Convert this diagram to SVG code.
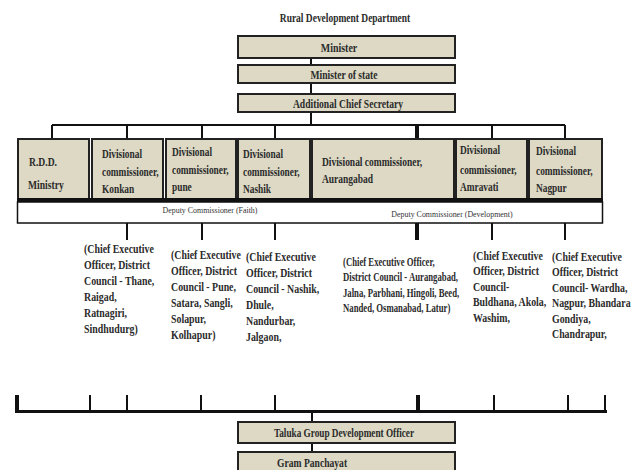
<svg xmlns="http://www.w3.org/2000/svg" width="638" height="470" viewBox="0 0 638 470">
<style>
.bx{fill:#DDD9C4;stroke:#222;stroke-width:2}
.t{font-family:"Liberation Serif","Times New Roman",serif;font-weight:bold;font-size:12px;fill:#2b2b2b}
.s{font-family:"Liberation Serif","Times New Roman",serif;font-size:9px;fill:#333}
.l{font-family:"Liberation Serif","Times New Roman",serif;font-weight:bold;font-size:13px;fill:#2b2b2b}
.ln{stroke:#111;stroke-width:2;fill:none}
.tk{stroke:#111;stroke-width:4;fill:none}
</style>
<rect width="638" height="470" fill="#fff"/>
<text class="t" text-anchor="middle" transform="translate(345 22) scale(0.79 1)">Rural Development Department</text>

<g id="connectors">
<path class="ln" d="M311 58V65M311 83V94M311 112V125M52 125H565M52 125V139M127 125V139M202 125V139M275 125V139M492 125V139M565 125V139"/>
<path class="tk" d="M417 125V139"/>
<path class="ln" d="M127 223V240M202 223V240M275 223V240M492 223V240M565 223V240"/>
<path class="tk" d="M417 223V240"/>
<path class="ln" d="M90 395V412M127 395V412M201 395V412M275 395V412M494 395V412M568 395V412M605 395V412M312 412V422M312 443V452" />
<path class="tk" d="M17 395V412M418 395V412"/>
<path d="M15 411.5H607" stroke="#111" stroke-width="3"/>
</g>

<g id="minister"><rect class="bx" x="238" y="36" width="217" height="22"/>
<text class="t" text-anchor="middle" transform="translate(339 52) scale(0.83 1)">Minister</text></g>
<g id="minister-state"><rect class="bx" x="238" y="65" width="217" height="18"/>
<text class="t" text-anchor="middle" transform="translate(344 79) scale(0.8 1)">Minister of state</text></g>
<g id="acs"><rect class="bx" x="238" y="94" width="217" height="18"/>
<text class="t" text-anchor="middle" transform="translate(348 108) scale(0.8 1)">Additional Chief Secretary</text></g>

<g id="rdd"><rect class="bx" x="18" y="139" width="71" height="60"/>
<text class="t" transform="translate(29 166) scale(0.8 1)">R.D.D.</text>
<text class="t" transform="translate(28 189) scale(0.8 1)">Ministry</text></g>
<g id="konkan"><rect class="bx" x="92" y="139" width="71" height="60"/>
<text class="t" transform="translate(102 158) scale(0.78 1)"><tspan x="0">Divisional</tspan><tspan x="0" dy="18">commissioner,</tspan><tspan x="0" dy="17">Konkan</tspan></text></g>
<g id="pune"><rect class="bx" x="166" y="139" width="70" height="60"/>
<text class="t" transform="translate(172 156) scale(0.78 1)"><tspan x="0">Divisional</tspan><tspan x="0" dy="18">commissioner,</tspan><tspan x="0" dy="17">pune</tspan></text></g>
<g id="nashik"><rect class="bx" x="238" y="139" width="72" height="60"/>
<text class="t" transform="translate(243 158) scale(0.78 1)"><tspan x="0">Divisional</tspan><tspan x="0" dy="18">commissioner,</tspan><tspan x="0" dy="17">Nashik</tspan></text></g>
<g id="aurangabad"><rect class="bx" x="312" y="139" width="142" height="60"/>
<text class="t" transform="translate(322 166) scale(0.79 1)"><tspan x="0">Divisional commissioner,</tspan><tspan x="0" dy="17">Aurangabad</tspan></text></g>
<g id="amravati"><rect class="bx" x="456" y="139" width="71" height="60"/>
<text class="t" transform="translate(460 154) scale(0.78 1)"><tspan x="0">Divisional</tspan><tspan x="0" dy="20">commissioner,</tspan><tspan x="0" dy="17">Amravati</tspan></text></g>
<g id="nagpur"><rect class="bx" x="529" y="139" width="73" height="60"/>
<text class="t" transform="translate(536 155) scale(0.78 1)"><tspan x="0">Divisional</tspan><tspan x="0" dy="20">commissioner,</tspan><tspan x="0" dy="17">Nagpur</tspan></text></g>

<g id="deputy-band">
<rect x="17" y="198" width="586" height="4" fill="#111"/>
<rect x="17.5" y="202" width="585" height="21" fill="#fff" stroke="#111" stroke-width="1.5"/>
<text class="s" text-anchor="middle" transform="translate(210 213) scale(0.88 1)">Deputy Commissioner (Faith)</text>
<text class="s" text-anchor="middle" transform="translate(452 217) scale(0.88 1)">Deputy Commissioner (Development)</text>
</g>

<g id="ceo-konkan"><text class="l" transform="translate(84 253) scale(0.76 1)"><tspan x="0">(Chief Executive</tspan><tspan x="0" dy="16">Officer, District</tspan><tspan x="0" dy="16">Council - Thane,</tspan><tspan x="0" dy="16">Raigad,</tspan><tspan x="0" dy="16">Ratnagiri,</tspan><tspan x="0" dy="16">Sindhudurg)</tspan></text></g>
<g id="ceo-pune"><text class="l" transform="translate(171 259) scale(0.76 1)"><tspan x="0">(Chief Executive</tspan><tspan x="0" dy="16">Officer, District</tspan><tspan x="0" dy="16">Council - Pune,</tspan><tspan x="0" dy="16">Satara, Sangli,</tspan><tspan x="0" dy="16">Solapur,</tspan><tspan x="0" dy="16">Kolhapur)</tspan></text></g>
<g id="ceo-nashik"><text class="l" transform="translate(246 261) scale(0.76 1)"><tspan x="0">(Chief Executive</tspan><tspan x="0" dy="16">Officer, District</tspan><tspan x="0" dy="16">Council - Nashik,</tspan><tspan x="0" dy="16">Dhule,</tspan><tspan x="0" dy="16">Nandurbar,</tspan><tspan x="0" dy="16">Jalgaon,</tspan></text></g>
<g id="ceo-aurangabad"><text class="l" transform="translate(343 266) scale(0.67 1)"><tspan x="0">(Chief Executive Officer,</tspan><tspan x="0" dy="15.5">District Council - Aurangabad,</tspan><tspan x="0" dy="15.5">Jalna, Parbhani, Hingoli, Beed,</tspan><tspan x="0" dy="15.5">Nanded, Osmanabad, Latur)</tspan></text></g>
<g id="ceo-amravati"><text class="l" transform="translate(473 260) scale(0.76 1)"><tspan x="0">(Chief Executive</tspan><tspan x="0" dy="15.5">Officer, District</tspan><tspan x="0" dy="15.5">Council-</tspan><tspan x="0" dy="15.5">Buldhana, Akola,</tspan><tspan x="0" dy="15.5">Washim,</tspan></text></g>
<g id="ceo-nagpur"><text class="l" transform="translate(552 261) scale(0.76 1)"><tspan x="0">(Chief Executive</tspan><tspan x="0" dy="15.5">Officer, District</tspan><tspan x="0" dy="15.5">Council- Wardha,</tspan><tspan x="0" dy="15.5">Nagpur, Bhandara</tspan><tspan x="0" dy="15.5">Gondiya,</tspan><tspan x="0" dy="15.5">Chandrapur,</tspan></text></g>

<g id="taluka"><rect class="bx" x="238" y="422" width="217" height="21"/>
<text class="t" text-anchor="middle" transform="translate(344 437) scale(0.77 1)">Taluka Group Development Officer</text></g>
<g id="gram"><rect class="bx" x="238" y="452" width="217" height="24"/>
<text class="t" transform="translate(277 467) scale(0.8 1)">Gram Panchayat</text></g>
</svg>
